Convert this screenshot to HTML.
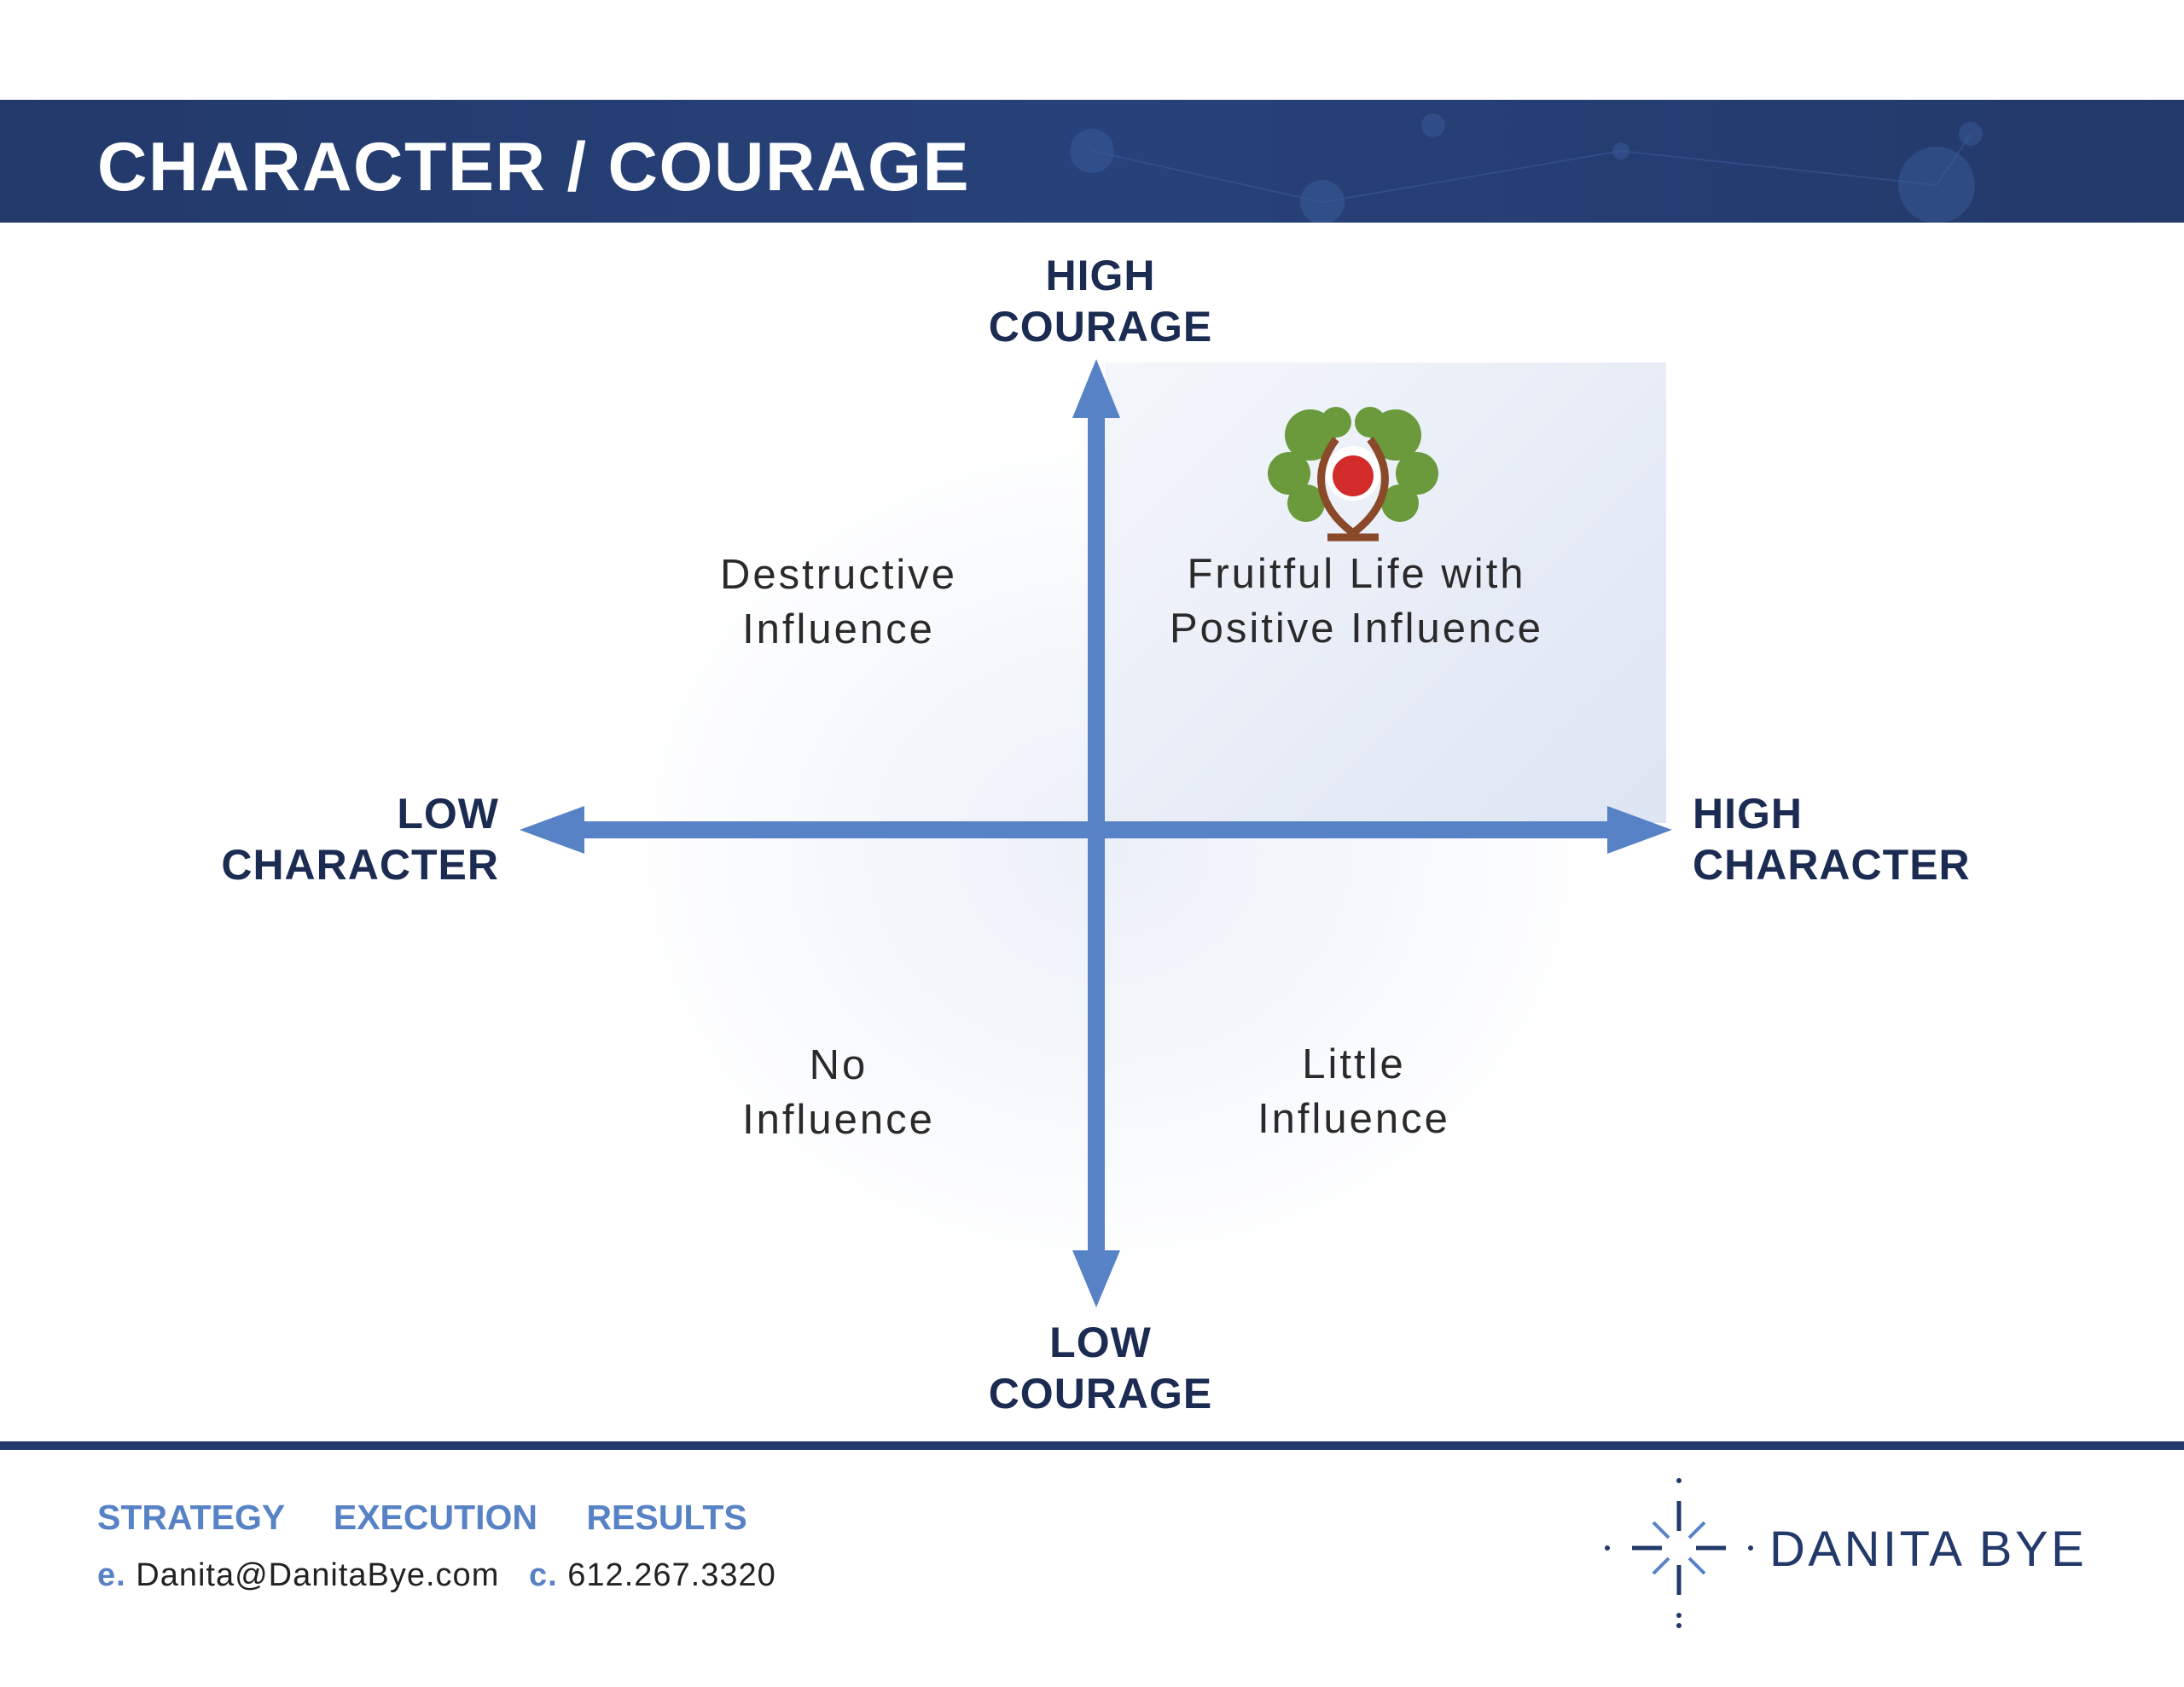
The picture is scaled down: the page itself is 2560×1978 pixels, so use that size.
<!DOCTYPE html>
<html><head><meta charset="utf-8"><style>
body{margin:0;width:2560px;height:1978px;background:#fff;position:relative;overflow:hidden;font-family:"Liberation Sans",sans-serif;}
.a{position:absolute;}
.h{font-weight:bold;color:#1c2b52;font-size:50px;line-height:60px;letter-spacing:1px;}
.q{font-size:49px;line-height:64px;color:#2a2a2a;text-align:center;width:700px;letter-spacing:3px;}
</style></head><body>
<div class="a" style="left:0;top:117px;width:2560px;height:144px;background:linear-gradient(90deg,#23396a,#27427a 50%,#23396a);"></div>
<svg class="a" style="left:0;top:117px" width="2560" height="144">
<g fill="#3a5c9a" opacity="0.5"><circle cx="1280" cy="60" r="26"/><circle cx="1550" cy="120" r="26"/><circle cx="2270" cy="100" r="45"/><circle cx="1680" cy="30" r="14"/><circle cx="2310" cy="40" r="14"/><circle cx="1900" cy="60" r="10"/></g>
<g stroke="#3a5c9a" stroke-width="2" opacity="0.5"><line x1="1280" y1="60" x2="1550" y2="120"/><line x1="1550" y1="120" x2="1900" y2="60"/><line x1="1900" y1="60" x2="2270" y2="100"/><line x1="2270" y1="100" x2="2310" y2="40"/></g></svg>
<div class="a" style="left:114px;top:146px;color:#fff;font-weight:bold;font-size:81px;line-height:100px;letter-spacing:1.5px;">CHARACTER / COURAGE</div>

<div class="a" style="left:650px;top:440px;width:1300px;height:1120px;background:radial-gradient(ellipse at center,rgba(220,228,242,0.55),rgba(255,255,255,0) 65%);"></div>
<div class="a" style="left:1295px;top:425px;width:658px;height:540px;background:linear-gradient(135deg,#f4f6fb,#dde5f3);"></div>

<svg class="a" style="left:0;top:0" width="2560" height="1978">
<rect x="1275" y="480" width="20" height="1000" fill="#5882c6"/>
<polygon points="1285,421 1257,490 1313,490" fill="#5882c6"/>
<polygon points="1285,1533 1257,1466 1313,1466" fill="#5882c6"/>
<rect x="670" y="963" width="1230" height="20" fill="#5882c6"/>
<polygon points="609,973 685,945 685,1001" fill="#5882c6"/>
<polygon points="1960,973 1884,945 1884,1001" fill="#5882c6"/>
<g transform="translate(1586,555)">
<g fill="#6a9a3c"><circle cx="-50" cy="-45" r="30"/><circle cx="50" cy="-45" r="30"/><circle cx="-75" cy="0" r="25"/><circle cx="75" cy="0" r="25"/><circle cx="-55" cy="35" r="22"/><circle cx="55" cy="35" r="22"/><circle cx="-20" cy="-60" r="18"/><circle cx="20" cy="-60" r="18"/></g>
<path d="M0,70 C-40,40 -50,0 -20,-40 M0,70 C40,40 50,0 20,-40 M-30,75 L30,75" stroke="#8a4a2a" stroke-width="9" fill="none"/>
<circle cx="0" cy="0" r="32" fill="#fff"/><circle cx="0" cy="3" r="24" fill="#d32a2a"/>
</g>
<g stroke="#23396a" stroke-width="5" transform="translate(1968,1815)">
<line x1="0" y1="-55" x2="0" y2="-20"/><line x1="0" y1="20" x2="0" y2="55"/><line x1="-55" y1="0" x2="-20" y2="0"/><line x1="20" y1="0" x2="55" y2="0"/>
</g>
<g stroke="#5882c6" stroke-width="4" transform="translate(1968,1815)">
<line x1="-12" y1="-12" x2="-30" y2="-30"/><line x1="12" y1="-12" x2="30" y2="-30"/><line x1="-12" y1="12" x2="-30" y2="30"/><line x1="12" y1="12" x2="30" y2="30"/></g>
<g fill="#23396a"><circle cx="1968" cy="1736" r="3"/><circle cx="1968" cy="1906" r="3"/><circle cx="1968" cy="1894" r="3"/><circle cx="1884" cy="1815" r="3"/><circle cx="2052" cy="1815" r="3"/></g>
</svg>

<div class="a h" style="left:1090px;top:293px;width:400px;text-align:center;">HIGH<br>COURAGE</div>
<div class="a h" style="left:1090px;top:1544px;width:400px;text-align:center;">LOW<br>COURAGE</div>
<div class="a h" style="left:185px;top:924px;width:400px;text-align:right;">LOW<br>CHARACTER</div>
<div class="a h" style="left:1984px;top:924px;width:500px;">HIGH<br>CHARACTER</div>

<div class="a q" style="left:633px;top:642px;">Destructive<br>Influence</div>
<div class="a q" style="left:1240px;top:641px;">Fruitful Life with<br>Positive Influence</div>
<div class="a q" style="left:633px;top:1217px;">No<br>Influence</div>
<div class="a q" style="left:1237px;top:1216px;">Little<br>Influence</div>

<div class="a" style="left:0;top:1690px;width:2560px;height:10px;background:#23396a;"></div>
<div class="a" style="left:114px;top:1756px;font-size:41px;font-weight:bold;color:#5882c6;word-spacing:46px;">STRATEGY EXECUTION RESULTS</div>
<div class="a" style="left:114px;top:1826px;font-size:38px;letter-spacing:1px;color:#222;"><b style="color:#5882c6">e.</b> Danita@DanitaBye.com &nbsp;&nbsp;<b style="color:#5882c6">c.</b> 612.267.3320</div>
<div class="a" style="left:2074px;top:1783px;font-size:58px;color:#23396a;letter-spacing:3.5px;">DANITA BYE</div>
</body></html>
